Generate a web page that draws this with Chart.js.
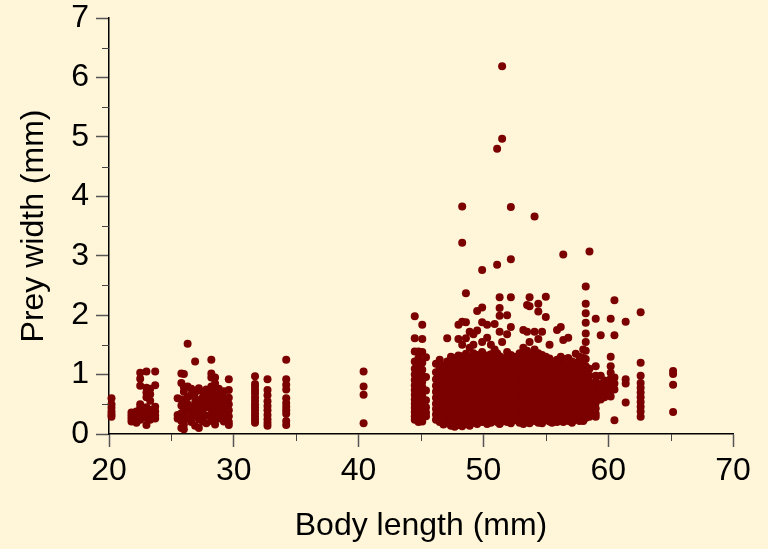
<!DOCTYPE html>
<html>
<head>
<meta charset="utf-8">
<script src="https://cdn.jsdelivr.net/npm/chart.js@4.4.1/dist/chart.umd.min.js"></script>
<style>
  html, body { margin: 0; padding: 0; background: #FFF5D8; }
  #wrap { width: 768px; height: 549px; }
</style>
</head>
<body>
<div id="wrap"><canvas id="c" width="768" height="549"></canvas></div>
<script>
// Body length (mm) of each measured column of points
const lengths = [
  20.2, 21.8, 22.2, 22.5, 23.0, 23.3, 23.7, 25.5, 25.8, 26.0, 26.3, 26.6, 26.9, 27.2, 27.5, 27.8,
  28.2, 28.5, 28.8, 29.2, 29.6, 31.7, 32.7, 34.2, 40.4,
  44.5, 44.8, 45.1, 45.4, 46.2, 46.5, 46.8, 47.1, 47.4, 47.7, 48.0, 48.3, 48.6, 48.9, 49.2, 49.5,
  49.9, 50.3, 50.6, 50.9, 51.1, 51.3, 51.5, 51.9, 52.2, 52.5, 52.9, 53.2, 53.5, 53.7, 54.1, 54.4,
  54.7, 55.0, 55.3, 55.5, 55.9, 56.2, 56.4, 56.8, 57.1, 57.4, 57.7, 58.0, 58.2, 58.5, 59.0, 59.4,
  59.7, 60.2, 60.5, 61.4, 62.6, 65.2
];
// Prey width (mm) values observed at each body length above
const widths = [
  [0.60, 0.50, 0.44, 0.38, 0.33, 0.29],
  [0.36, 0.31, 0.26, 0.21],
  [0.38, 0.33, 0.28, 0.23, 0.19],
  [1.03, 0.93, 0.81, 0.50, 0.44, 0.37, 0.30, 0.24],
  [1.05, 0.78, 0.70, 0.62, 0.45, 0.36, 0.27, 0.15],
  [0.76, 0.67, 0.56, 0.41, 0.32, 0.24],
  [1.05, 0.82, 0.46, 0.38, 0.31, 0.26],
  [0.60, 0.32, 0.26],
  [1.02, 0.86, 0.58, 0.48, 0.35, 0.22, 0.10],
  [1.01, 0.79, 0.71, 0.55, 0.44, 0.31, 0.16, 0.08],
  [1.52, 0.80, 0.62, 0.50, 0.40, 0.26],
  [0.76, 0.66, 0.46, 0.36, 0.29, 0.20],
  [1.22, 0.70, 0.60, 0.52, 0.41, 0.31, 0.14],
  [0.77, 0.56, 0.46, 0.36, 0.25, 0.10],
  [0.71, 0.61, 0.50, 0.41, 0.30, 0.21],
  [0.75, 0.65, 0.55, 0.45, 0.31, 0.18],
  [1.25, 1.02, 0.95, 0.80, 0.70, 0.61, 0.52, 0.42, 0.32, 0.22],
  [0.95, 0.85, 0.72, 0.62, 0.47, 0.36, 0.26, 0.16],
  [0.76, 0.66, 0.56, 0.46, 0.36, 0.26],
  [0.72, 0.61, 0.51, 0.41, 0.31, 0.21],
  [0.92, 0.74, 0.61, 0.50, 0.40, 0.30, 0.20, 0.15],
  [0.97, 0.84, 0.79, 0.73, 0.68, 0.62, 0.56, 0.50, 0.45, 0.40, 0.34, 0.29, 0.24, 0.19],
  [0.92, 0.74, 0.65, 0.55, 0.47, 0.40, 0.32, 0.25, 0.19, 0.14],
  [1.25, 0.92, 0.83, 0.75, 0.60, 0.52, 0.46, 0.40, 0.34, 0.22, 0.15],
  [1.05, 0.80, 0.66, 0.18],
  [1.98, 1.61, 1.39, 1.22, 1.10, 1.00, 0.91, 0.82, 0.74, 0.66, 0.58, 0.51, 0.44, 0.37, 0.30, 0.24],
  [1.39, 1.28, 1.15, 1.04, 0.95, 0.86, 0.77, 0.69, 0.61, 0.53, 0.46, 0.39, 0.32, 0.26, 0.20],
  [1.84, 1.60, 1.38, 1.20, 1.08, 0.98, 0.88, 0.79, 0.71, 0.63, 0.55, 0.47, 0.40, 0.33, 0.27, 0.21],
  [1.29, 0.96, 0.73, 0.57, 0.45, 0.36, 0.30],
  [1.18, 1.04, 0.92, 0.81, 0.71, 0.61, 0.51, 0.42, 0.33, 0.24],
  [1.25, 1.12, 0.99, 0.88, 0.77, 0.67, 0.57, 0.47, 0.38, 0.29, 0.20],
  [1.15, 1.03, 0.93, 0.83, 0.73, 0.63, 0.53, 0.43, 0.34, 0.25, 0.16],
  [1.61, 1.22, 1.11, 1.01, 0.91, 0.81, 0.71, 0.62, 0.53, 0.44, 0.35, 0.26, 0.18],
  [1.30, 1.19, 1.08, 0.97, 0.87, 0.77, 0.68, 0.58, 0.49, 0.40, 0.31, 0.22, 0.14],
  [1.28, 1.16, 1.05, 0.95, 0.85, 0.75, 0.65, 0.56, 0.47, 0.38, 0.29, 0.20, 0.12],
  [1.84, 1.60, 1.32, 1.20, 1.09, 0.99, 0.89, 0.79, 0.69, 0.60, 0.51, 0.42, 0.33, 0.24, 0.15],
  [3.83, 3.22, 1.89, 1.50, 1.31, 1.18, 1.07, 0.97, 0.87, 0.78, 0.68, 0.58, 0.49, 0.40, 0.31, 0.22, 0.13],
  [2.37, 1.88, 1.61, 1.35, 1.24, 1.13, 1.02, 0.92, 0.82, 0.72, 0.62, 0.53, 0.44, 0.35, 0.26, 0.17],
  [1.72, 1.45, 1.30, 1.19, 1.08, 0.98, 0.88, 0.78, 0.68, 0.59, 0.50, 0.41, 0.32, 0.23, 0.14],
  [1.68, 1.50, 1.36, 1.25, 1.14, 1.03, 0.93, 0.83, 0.73, 0.64, 0.55, 0.46, 0.37, 0.28, 0.19],
  [2.07, 1.74, 1.33, 1.21, 1.10, 1.00, 0.90, 0.80, 0.70, 0.61, 0.52, 0.43, 0.34, 0.25, 0.17],
  [2.76, 2.13, 1.88, 1.55, 1.38, 1.26, 1.15, 1.04, 0.94, 0.84, 0.74, 0.65, 0.56, 0.47, 0.38, 0.29, 0.20],
  [1.84, 1.62, 1.32, 1.20, 1.09, 0.99, 0.89, 0.79, 0.70, 0.61, 0.52, 0.43, 0.34, 0.25, 0.17],
  [1.50, 1.34, 1.23, 1.12, 1.02, 0.92, 0.82, 0.72, 0.63, 0.54, 0.45, 0.36, 0.27, 0.19],
  [1.85, 1.42, 1.29, 1.18, 1.07, 0.97, 0.87, 0.77, 0.67, 0.58, 0.49, 0.40, 0.31, 0.22],
  [4.80, 2.85, 1.36, 1.25, 1.14, 1.04, 0.94, 0.84, 0.74, 0.65, 0.56, 0.47, 0.38, 0.29, 0.20],
  [2.30, 2.12, 1.99, 1.72, 1.31, 1.20, 1.09, 0.99, 0.89, 0.79, 0.70, 0.61, 0.52, 0.43, 0.34, 0.25, 0.17],
  [6.19, 4.97, 1.55, 1.28, 1.16, 1.05, 0.95, 0.85, 0.75, 0.66, 0.57, 0.48, 0.39, 0.30, 0.21],
  [2.00, 1.68, 1.38, 1.26, 1.15, 1.04, 0.94, 0.84, 0.74, 0.65, 0.56, 0.47, 0.38, 0.29, 0.20],
  [3.82, 2.94, 2.30, 1.80, 1.33, 1.21, 1.10, 1.00, 0.90, 0.80, 0.71, 0.62, 0.53, 0.44, 0.35, 0.26, 0.18],
  [1.30, 1.18, 1.07, 0.97, 0.87, 0.77, 0.68, 0.59, 0.50, 0.41, 0.32, 0.23],
  [1.36, 1.24, 1.13, 1.02, 0.92, 0.82, 0.72, 0.63, 0.54, 0.45, 0.36, 0.27, 0.19],
  [1.75, 1.45, 1.32, 1.20, 1.09, 0.99, 0.89, 0.79, 0.69, 0.60, 0.51, 0.42, 0.33, 0.24, 0.17],
  [2.17, 1.72, 1.40, 1.28, 1.17, 1.06, 0.96, 0.86, 0.76, 0.67, 0.58, 0.49, 0.40, 0.31, 0.22],
  [2.30, 2.15, 1.55, 1.35, 1.23, 1.12, 1.01, 0.91, 0.81, 0.71, 0.62, 0.53, 0.44, 0.35, 0.26, 0.18],
  [3.66, 1.72, 1.42, 1.30, 1.18, 1.07, 0.97, 0.87, 0.77, 0.67, 0.58, 0.49, 0.40, 0.31, 0.22],
  [2.19, 2.06, 1.60, 1.36, 1.24, 1.13, 1.02, 0.92, 0.82, 0.72, 0.63, 0.54, 0.45, 0.36, 0.27, 0.19],
  [1.72, 1.33, 1.21, 1.10, 1.00, 0.90, 0.80, 0.70, 0.61, 0.52, 0.43, 0.34, 0.25, 0.18],
  [2.31, 1.97, 1.30, 1.18, 1.07, 0.97, 0.87, 0.77, 0.68, 0.59, 0.50, 0.41, 0.32, 0.23],
  [1.50, 1.27, 1.16, 1.05, 0.95, 0.85, 0.75, 0.66, 0.57, 0.48, 0.39, 0.30, 0.21],
  [1.22, 1.11, 1.01, 0.91, 0.81, 0.71, 0.62, 0.53, 0.44, 0.35, 0.26, 0.19],
  [1.75, 1.25, 1.14, 1.03, 0.93, 0.83, 0.73, 0.64, 0.55, 0.46, 0.37, 0.28, 0.20],
  [1.80, 1.30, 1.19, 1.08, 0.98, 0.88, 0.78, 0.68, 0.59, 0.50, 0.41, 0.32, 0.23],
  [3.02, 1.58, 1.26, 1.15, 1.04, 0.94, 0.84, 0.74, 0.65, 0.56, 0.47, 0.38, 0.29, 0.20],
  [1.62, 1.28, 1.16, 1.05, 0.95, 0.85, 0.75, 0.66, 0.57, 0.48, 0.39, 0.30, 0.22],
  [1.22, 1.11, 1.01, 0.91, 0.81, 0.71, 0.62, 0.53, 0.44, 0.35, 0.26, 0.19],
  [1.35, 1.20, 1.09, 0.99, 0.89, 0.79, 0.69, 0.60, 0.51, 0.42, 0.33, 0.24],
  [1.30, 1.18, 1.07, 0.97, 0.87, 0.77, 0.67, 0.58, 0.49, 0.40, 0.31, 0.22],
  [1.42, 1.28, 1.16, 1.05, 0.95, 0.85, 0.75, 0.65, 0.56, 0.47, 0.38, 0.29, 0.22],
  [2.48, 2.19, 2.03, 1.87, 1.69, 1.55, 1.40, 1.26, 1.14, 1.03, 0.93, 0.83, 0.73, 0.63, 0.54, 0.45, 0.36, 0.27],
  [3.07, 1.10, 0.98, 0.87, 0.77, 0.67, 0.57, 0.47, 0.38, 0.29],
  [1.94, 1.14, 0.98, 0.88, 0.80, 0.70, 0.61, 0.52, 0.43, 0.34, 0.29],
  [1.66, 0.98, 0.84, 0.74, 0.64, 0.58],
  [0.90, 0.80, 0.70, 0.62],
  [1.94, 1.30, 1.14, 1.03, 0.93, 0.83, 0.73, 0.63],
  [2.25, 1.66, 0.95, 0.85, 0.75, 0.23],
  [1.89, 0.92, 0.85, 0.53],
  [2.05, 1.20, 0.98, 0.86, 0.78, 0.70, 0.62, 0.54, 0.46, 0.38, 0.29],
  [1.06, 1.01, 0.83, 0.37]
];
const xTicks = [20, 30, 40, 50, 60, 70];
const yTicks = [0, 1, 2, 3, 4, 5, 6, 7];
const xTitle = 'Body length (mm)';
const yTitle = 'Prey width (mm)';

const points = [];
lengths.forEach((len, i) => widths[i].forEach(w => points.push({ x: len, y: w })));

const FONT = "'Liberation Sans', Arial, sans-serif";

const minorTicks = {
  id: 'minorTicks',
  afterDraw(chart) {
    const { ctx, scales: { x, y } } = chart;
    ctx.save();
    ctx.strokeStyle = '#444';
    ctx.lineWidth = 1;
    for (let v = 25; v < 70; v += 10) {
      const px = Math.round(x.getPixelForValue(v)) + 0.5;
      ctx.beginPath(); ctx.moveTo(px, y.bottom); ctx.lineTo(px, y.bottom + 7); ctx.stroke();
    }
    for (let v = 0.5; v < 7; v += 1) {
      const py = Math.round(y.getPixelForValue(v)) + 0.5;
      ctx.beginPath(); ctx.moveTo(x.left, py); ctx.lineTo(x.left - 7, py); ctx.stroke();
    }
    ctx.restore();
  }
};

new Chart(document.getElementById('c'), {
  type: 'scatter',
  data: {
    datasets: [{
      data: points,
      pointRadius: 4,
      pointHoverRadius: 4,
      pointBackgroundColor: '#7B0000',
      pointBorderWidth: 0,
      clip: false
    }]
  },
  options: {
    responsive: false,
    animation: false,
    devicePixelRatio: 1,
    layout: { padding: { top: 18, right: 35, left: 0, bottom: 0 } },
    plugins: { legend: { display: false }, tooltip: { enabled: false } },
    scales: {
      x: {
        type: 'linear',
        min: 20, max: 70,
        afterBuildTicks: s => { s.ticks = xTicks.map(v => ({ value: v })); },
        afterFit: s => { s.height = 115; s.paddingLeft = 0; s.paddingRight = 0; },
        ticks: { color: '#000', font: { family: FONT, size: 32 }, padding: 5, maxRotation: 0 },
        grid: { display: true, drawOnChartArea: false, drawTicks: true, tickLength: 13, tickColor: '#555', tickWidth: 1.5 },
        border: { display: true, color: '#000', width: 1.5 },
        title: { display: true, text: xTitle, color: '#000', font: { family: FONT, size: 32 }, padding: { top: 0, bottom: 4 } }
      },
      y: {
        type: 'linear',
        min: 0, max: 7,
        afterBuildTicks: s => { s.ticks = yTicks.map(v => ({ value: v })); },
        afterFit: s => { s.width = 109; s.paddingTop = 0; s.paddingBottom = 0; },
        ticks: { color: '#000', font: { family: FONT, size: 32 }, padding: 7 },
        grid: { display: true, drawOnChartArea: false, drawTicks: true, tickLength: 13, tickColor: '#555', tickWidth: 1.5 },
        border: { display: true, color: '#000', width: 1.5 },
        title: { display: true, text: yTitle, color: '#000', font: { family: FONT, size: 32 }, padding: { top: 15, bottom: 0 } }
      }
    }
  },
  plugins: [minorTicks]
});
</script>
</body>
</html>
